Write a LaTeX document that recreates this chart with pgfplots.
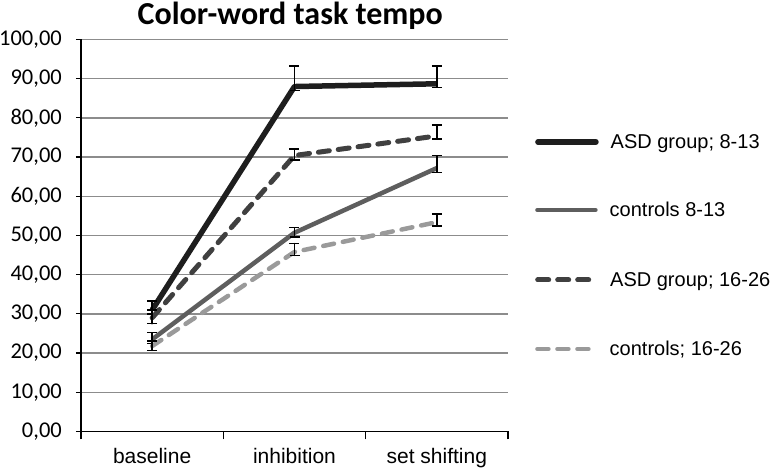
\documentclass[border=0pt]{standalone}
\usepackage{pgfplots}
\pgfplotsset{compat=1.18}
\usepackage{fontspec}
\setmainfont{Liberation Sans}
\newfontfamily\carlito{Carlito}
\definecolor{asdA}{HTML}{1E1E1E}
\definecolor{ctlA}{HTML}{5E5E5E}
\definecolor{asdB}{HTML}{404040}
\definecolor{ctlB}{HTML}{9A9A9A}
\definecolor{gridc}{HTML}{8C8C8C}
\pgfplotsset{
  leg/.style={hide axis, scale only axis, width=1pt, height=1pt, anchor=west,
    xmin=0, xmax=1, ymin=0, ymax=1,
    legend style={draw=none, fill=none, at={(0,0.5)}, anchor=west, inner sep=0pt,
      font=\fontsize{20}{20}\selectfont, column sep=12pt, nodes={inner sep=0pt}},
    legend cell align=left,
    legend image code/.code={\draw[##1, line cap=round] (0pt,0pt) -- (58pt,0pt);}},
}
\begin{document}
\begin{tikzpicture}
\useasboundingbox (-81pt,-38.5pt) rectangle (693pt,431.5pt);
\begin{axis}[
  scale only axis, width=427pt, height=392pt, at={(0,0)}, anchor=south west,
  xmin=-0.5, xmax=2.5, ymin=0, ymax=100,
  axis x line*=bottom, axis y line*=left,
  axis line style={black, line width=1.6pt, -},
  xtick={0,1,2}, xticklabels={baseline,inhibition,set shifting},
  minor xtick={-0.5,0.5,1.5,2.5},
  major x tick style={draw=none},
  minor x tick style={black, line width=1.2pt},
  minor tick length=8pt,
  ytick={0,10,...,100},
  major y tick style={black, line width=1.2pt},
  major tick length=5pt,
  tick align=outside,
  ymajorgrids, grid style={gridc, line width=1.4pt},
  /pgf/number format/assume math mode=true,
  yticklabel={\pgfmathprintnumber[fixed, fixed zerofill, precision=2, use comma]{\tick}},
  yticklabel style={font=\carlito\fontsize{22.5}{22.5}\selectfont, inner sep=0pt, anchor=east, xshift=-14pt},
  xticklabel style={font=\fontsize{21}{21}\selectfont, inner sep=0pt, anchor=base, yshift=-27pt},
  title={Color-word task tempo},
  title style={font=\carlito\bfseries\fontsize{32}{32}\selectfont, at={(0.49,1)}, anchor=base, yshift=9pt, inner sep=0pt},
  error bars/error bar style={black, line width=1.5pt, solid},
  error bars/error mark options={black, rotate=90, mark size=5pt, line width=1.5pt, solid},
  clip=false,
]
\addplot[asdA, line width=5.5pt, line join=round, error bars/.cd, y dir=both, y explicit]
  coordinates {(0,31.0) += (0,2.3) -= (0,1.0) (1,88.0) += (0,5.3) -= (0,1.0) (2,88.7) += (0,4.6) -= (0,1.0)};
\addplot[ctlA, line width=4.5pt, line join=round, error bars/.cd, y dir=both, y explicit]
  coordinates {(0,23.5) += (0,1.8) -= (0,1.0) (1,50.7) += (0,1.4) -= (0,1.1) (2,67.2) += (0,3.2) -= (0,1.1)};
\addplot[asdB, line width=5pt, line join=round, dash pattern=on 11pt off 9pt, line cap=round, error bars/.cd, y dir=both, y explicit]
  coordinates {(0,29.0) += (0,2.0) -= (0,1.5) (1,70.4) += (0,1.7) -= (0,1.1) (2,75.4) += (0,2.8) -= (0,0.8)};
\addplot[ctlB, line width=4.5pt, line join=round, dash pattern=on 11pt off 9pt, line cap=round, error bars/.cd, y dir=both, y explicit]
  coordinates {(0,21.8) += (0,1.3) -= (0,1.1) (1,45.8) += (0,2.1) -= (0,0.9) (2,53.4) += (0,2.1) -= (0,1.0)};
\end{axis}
\begin{axis}[leg, at={(454pt,289.5pt)}]
\addlegendimage{asdA, line width=5.5pt}
\addlegendentry{ASD group; 8-13}
\end{axis}
\begin{axis}[leg, at={(454pt,221.5pt)}]
\addlegendimage{ctlA, line width=4.5pt}
\addlegendentry{controls 8-13}
\end{axis}
\begin{axis}[leg, at={(454pt,151.5pt)}]
\addlegendimage{asdB, line width=5pt, dash pattern=on 11pt off 9pt}
\addlegendentry{ASD group; 16-26}
\end{axis}
\begin{axis}[leg, at={(454pt,82.5pt)}]
\addlegendimage{ctlB, line width=4.5pt, dash pattern=on 11pt off 9pt}
\addlegendentry{controls; 16-26}
\end{axis}
\end{tikzpicture}
\end{document}
